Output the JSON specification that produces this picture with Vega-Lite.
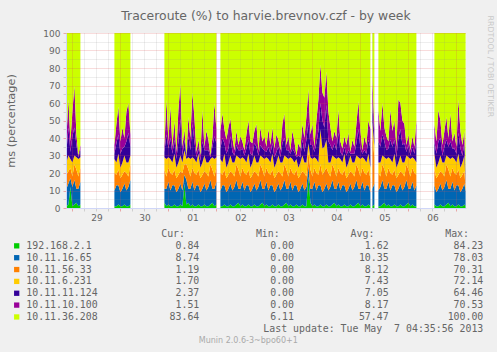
{
"$schema":"https://vega.github.io/schema/vega-lite/v6.json",
"autosize":{"type":"none"},
"padding":{"left":66,"top":33,"right":431,"bottom":319},
"background":"#F0F0F0",
"config":{"view":{"stroke":null},"font":"DejaVu Sans"},
"datasets":{
"series":[
{"t":-3,"s":1,"a":1,"b":10,"c":8,"d":7,"e":6,"f":8,"g":60},
{"t":-2,"s":1,"a":2,"b":12,"c":7,"d":9,"e":16,"f":16,"g":38},
{"t":-1,"s":1,"a":12,"b":5,"c":6,"d":5,"e":4,"f":6,"g":62},
{"t":0,"s":1,"a":1,"b":11,"c":6,"d":8,"e":15,"f":14,"g":45},
{"t":1,"s":1,"a":2,"b":14,"c":9,"d":5,"e":16,"f":24,"g":30},
{"t":2,"s":1,"a":3,"b":8,"c":11,"d":7,"e":7,"f":6,"g":58},
{"t":3,"s":1,"a":1,"b":10,"c":7,"d":10,"e":1,"f":1,"g":70},
{"t":4,"s":1,"a":2,"b":13,"c":8,"d":6,"e":4,"f":3,"g":64},
{"t":21,"s":2,"a":1,"b":9,"c":10,"d":8,"e":3,"f":5,"g":64},
{"t":22,"s":2,"a":1,"b":12,"c":6,"d":7,"e":11,"f":11,"g":52},
{"t":23,"s":2,"a":2,"b":11,"c":9,"d":9,"e":11,"f":16,"g":42},
{"t":24,"s":2,"a":1,"b":8,"c":8,"d":6,"e":8,"f":7,"g":62},
{"t":25,"s":2,"a":1,"b":10,"c":8,"d":7,"e":8,"f":12,"g":54},
{"t":26,"s":2,"a":2,"b":12,"c":7,"d":9,"e":5,"f":5,"g":60},
{"t":27,"s":2,"a":1,"b":9,"c":10,"d":6,"e":12,"f":17,"g":45},
{"t":28,"s":2,"a":1,"b":11,"c":6,"d":8,"e":17,"f":17,"g":40},
{"t":29,"s":2,"a":2,"b":14,"c":9,"d":5,"e":5,"f":7,"g":58},
{"t":46,"s":3,"a":3,"b":8,"c":11,"d":7,"e":3,"f":3,"g":65},
{"t":47,"s":3,"a":1,"b":10,"c":7,"d":10,"e":14,"f":20,"g":38},
{"t":48,"s":3,"a":2,"b":13,"c":8,"d":6,"e":5,"f":4,"g":62},
{"t":49,"s":3,"a":1,"b":9,"c":10,"d":8,"e":12,"f":18,"g":42},
{"t":50,"s":3,"a":1,"b":12,"c":6,"d":7,"e":5,"f":4,"g":65},
{"t":51,"s":3,"a":2,"b":11,"c":9,"d":9,"e":8,"f":11,"g":50},
{"t":52,"s":3,"a":1,"b":8,"c":8,"d":6,"e":5,"f":4,"g":68},
{"t":53,"s":3,"a":1,"b":10,"c":8,"d":7,"e":12,"f":18,"g":44},
{"t":54,"s":3,"a":2,"b":12,"c":7,"d":9,"e":21,"f":20,"g":29},
{"t":55,"s":3,"a":1,"b":9,"c":10,"d":6,"e":4,"f":5,"g":65},
{"t":56,"s":3,"a":14,"b":5,"c":6,"d":8,"e":6,"f":6,"g":55},
{"t":57,"s":3,"a":2,"b":14,"c":9,"d":3,"e":1,"f":1,"g":70},
{"t":58,"s":3,"a":3,"b":8,"c":11,"d":7,"e":12,"f":11,"g":48},
{"t":59,"s":3,"a":1,"b":10,"c":7,"d":10,"e":5,"f":7,"g":60},
{"t":60,"s":3,"a":2,"b":13,"c":8,"d":6,"e":19,"f":18,"g":34},
{"t":61,"s":3,"a":1,"b":9,"c":10,"d":8,"e":10,"f":14,"g":48},
{"t":62,"s":3,"a":1,"b":12,"c":6,"d":7,"e":3,"f":3,"g":68},
{"t":63,"s":3,"a":2,"b":11,"c":9,"d":9,"e":3,"f":5,"g":61},
{"t":64,"s":3,"a":1,"b":8,"c":8,"d":6,"e":4,"f":3,"g":70},
{"t":65,"s":3,"a":1,"b":10,"c":8,"d":7,"e":12,"f":18,"g":44},
{"t":66,"s":3,"a":2,"b":12,"c":7,"d":9,"e":3,"f":2,"g":65},
{"t":67,"s":3,"a":1,"b":9,"c":10,"d":6,"e":7,"f":11,"g":56},
{"t":68,"s":3,"a":1,"b":11,"c":6,"d":8,"e":7,"f":6,"g":61},
{"t":69,"s":3,"a":2,"b":14,"c":9,"d":3,"e":1,"f":1,"g":70},
{"t":70,"s":3,"a":3,"b":8,"c":11,"d":7,"e":6,"f":5,"g":60},
{"t":71,"s":3,"a":1,"b":10,"c":7,"d":10,"e":13,"f":19,"g":40},
{"t":72,"s":3,"a":2,"b":13,"c":8,"d":6,"e":8,"f":8,"g":55},
{"t":74,"s":4,"a":1,"b":9,"c":10,"d":8,"e":6,"f":10,"g":56},
{"t":75,"s":4,"a":1,"b":12,"c":6,"d":7,"e":14,"f":14,"g":46},
{"t":76,"s":4,"a":2,"b":11,"c":9,"d":9,"e":6,"f":8,"g":55},
{"t":77,"s":4,"a":1,"b":8,"c":8,"d":6,"e":8,"f":8,"g":61},
{"t":78,"s":4,"a":1,"b":10,"c":8,"d":7,"e":8,"f":12,"g":54},
{"t":79,"s":4,"a":2,"b":12,"c":7,"d":9,"e":11,"f":10,"g":49},
{"t":80,"s":4,"a":1,"b":9,"c":10,"d":6,"e":6,"f":8,"g":60},
{"t":81,"s":4,"a":1,"b":11,"c":6,"d":8,"e":4,"f":3,"g":67},
{"t":82,"s":4,"a":2,"b":14,"c":9,"d":5,"e":6,"f":8,"g":56},
{"t":83,"s":4,"a":3,"b":8,"c":11,"d":7,"e":4,"f":3,"g":64},
{"t":84,"s":4,"a":1,"b":10,"c":7,"d":10,"e":5,"f":8,"g":59},
{"t":85,"s":4,"a":2,"b":13,"c":8,"d":6,"e":5,"f":4,"g":62},
{"t":86,"s":4,"a":1,"b":9,"c":10,"d":8,"e":2,"f":3,"g":67},
{"t":87,"s":4,"a":1,"b":12,"c":6,"d":7,"e":8,"f":8,"g":58},
{"t":88,"s":4,"a":2,"b":11,"c":9,"d":9,"e":8,"f":11,"g":50},
{"t":89,"s":4,"a":1,"b":8,"c":8,"d":6,"e":8,"f":7,"g":62},
{"t":90,"s":4,"a":1,"b":10,"c":8,"d":7,"e":4,"f":7,"g":63},
{"t":91,"s":4,"a":2,"b":12,"c":7,"d":9,"e":7,"f":7,"g":56},
{"t":92,"s":4,"a":1,"b":9,"c":10,"d":6,"e":9,"f":13,"g":52},
{"t":93,"s":4,"a":1,"b":11,"c":6,"d":8,"e":4,"f":3,"g":67},
{"t":94,"s":4,"a":2,"b":14,"c":9,"d":5,"e":6,"f":10,"g":54},
{"t":95,"s":4,"a":3,"b":8,"c":11,"d":7,"e":5,"f":4,"g":62},
{"t":96,"s":4,"a":1,"b":10,"c":7,"d":10,"e":5,"f":8,"g":59},
{"t":97,"s":4,"a":2,"b":13,"c":8,"d":6,"e":3,"f":3,"g":65},
{"t":98,"s":4,"a":1,"b":9,"c":10,"d":8,"e":7,"f":10,"g":55},
{"t":99,"s":4,"a":1,"b":12,"c":6,"d":7,"e":5,"f":5,"g":64},
{"t":100,"s":4,"a":2,"b":11,"c":9,"d":9,"e":6,"f":9,"g":54},
{"t":101,"s":4,"a":1,"b":8,"c":8,"d":6,"e":6,"f":5,"g":66},
{"t":102,"s":4,"a":1,"b":10,"c":8,"d":7,"e":6,"f":10,"g":58},
{"t":103,"s":4,"a":2,"b":12,"c":7,"d":9,"e":5,"f":4,"g":61},
{"t":104,"s":4,"a":1,"b":9,"c":10,"d":6,"e":3,"f":4,"g":67},
{"t":105,"s":4,"a":1,"b":11,"c":6,"d":8,"e":11,"f":11,"g":52},
{"t":106,"s":4,"a":2,"b":14,"c":9,"d":5,"e":10,"f":14,"g":46},
{"t":107,"s":4,"a":3,"b":8,"c":11,"d":7,"e":4,"f":3,"g":64},
{"t":108,"s":4,"a":1,"b":10,"c":7,"d":10,"e":5,"f":8,"g":59},
{"t":109,"s":4,"a":2,"b":13,"c":8,"d":6,"e":2,"f":2,"g":67},
{"t":110,"s":4,"a":1,"b":9,"c":10,"d":8,"e":6,"f":10,"g":56},
{"t":111,"s":4,"a":1,"b":12,"c":6,"d":7,"e":6,"f":6,"g":62},
{"t":112,"s":4,"a":2,"b":11,"c":9,"d":6,"e":1,"f":1,"g":70},
{"t":113,"s":4,"a":1,"b":8,"c":8,"d":6,"e":7,"f":7,"g":63},
{"t":114,"s":4,"a":1,"b":10,"c":8,"d":7,"e":3,"f":5,"g":66},
{"t":115,"s":4,"a":2,"b":12,"c":7,"d":9,"e":9,"f":9,"g":52},
{"t":116,"s":4,"a":1,"b":9,"c":10,"d":6,"e":6,"f":8,"g":60},
{"t":117,"s":4,"a":1,"b":11,"c":6,"d":8,"e":13,"f":13,"g":48},
{"t":118,"s":4,"a":18,"b":6,"c":8,"d":5,"e":12,"f":19,"g":32},
{"t":119,"s":4,"a":3,"b":8,"c":11,"d":7,"e":7,"f":6,"g":58},
{"t":120,"s":4,"a":1,"b":10,"c":7,"d":10,"e":8,"f":12,"g":52},
{"t":121,"s":4,"a":2,"b":13,"c":8,"d":6,"e":3,"f":3,"g":65},
{"t":122,"s":4,"a":1,"b":9,"c":10,"d":8,"e":9,"f":13,"g":50},
{"t":123,"s":4,"a":1,"b":12,"c":6,"d":7,"e":18,"f":18,"g":38},
{"t":124,"s":4,"a":2,"b":11,"c":12,"d":20,"e":15,"f":22,"g":18},
{"t":125,"s":4,"a":1,"b":8,"c":10,"d":15,"e":16,"f":16,"g":34},
{"t":126,"s":4,"a":1,"b":10,"c":10,"d":14,"e":11,"f":17,"g":37},
{"t":127,"s":4,"a":2,"b":12,"c":9,"d":16,"e":20,"f":19,"g":22},
{"t":128,"s":4,"a":1,"b":9,"c":10,"d":6,"e":12,"f":17,"g":45},
{"t":129,"s":4,"a":1,"b":11,"c":6,"d":8,"e":10,"f":10,"g":54},
{"t":130,"s":4,"a":2,"b":14,"c":9,"d":5,"e":3,"f":5,"g":62},
{"t":131,"s":4,"a":3,"b":8,"c":11,"d":7,"e":8,"f":7,"g":56},
{"t":132,"s":4,"a":1,"b":10,"c":7,"d":10,"e":5,"f":7,"g":60},
{"t":133,"s":4,"a":2,"b":13,"c":8,"d":6,"e":14,"f":13,"g":44},
{"t":134,"s":4,"a":1,"b":9,"c":10,"d":8,"e":4,"f":6,"g":62},
{"t":135,"s":4,"a":1,"b":12,"c":6,"d":7,"e":4,"f":4,"g":66},
{"t":136,"s":4,"a":2,"b":11,"c":9,"d":9,"e":4,"f":6,"g":59},
{"t":137,"s":4,"a":1,"b":8,"c":8,"d":6,"e":7,"f":6,"g":64},
{"t":138,"s":4,"a":1,"b":10,"c":8,"d":7,"e":7,"f":10,"g":57},
{"t":139,"s":4,"a":2,"b":12,"c":7,"d":9,"e":1,"f":1,"g":68},
{"t":140,"s":4,"a":1,"b":9,"c":10,"d":6,"e":5,"f":8,"g":61},
{"t":141,"s":4,"a":1,"b":11,"c":6,"d":8,"e":5,"f":4,"g":65},
{"t":142,"s":4,"a":2,"b":14,"c":9,"d":5,"e":7,"f":11,"g":52},
{"t":143,"s":4,"a":3,"b":8,"c":11,"d":7,"e":16,"f":16,"g":39},
{"t":144,"s":4,"a":1,"b":10,"c":7,"d":10,"e":6,"f":10,"g":56},
{"t":145,"s":4,"a":2,"b":13,"c":8,"d":6,"e":2,"f":2,"g":67},
{"t":146,"s":4,"a":1,"b":9,"c":10,"d":8,"e":5,"f":8,"g":59},
{"t":147,"s":4,"a":1,"b":12,"c":6,"d":7,"e":5,"f":5,"g":64},
{"t":148,"s":4,"a":2,"b":11,"c":9,"d":9,"e":8,"f":11,"g":50},
{"t":149,"s":4,"a":1,"b":8,"c":8,"d":6,"e":11,"f":11,"g":55},
{"t":150,"s":5,"a":1,"b":10,"c":30,"d":8,"e":10,"f":15,"g":26},
{"t":151,"s":5,"a":2,"b":12,"c":15,"d":6,"e":5,"f":5,"g":55},
{"t":153,"s":6,"a":1,"b":9,"c":10,"d":6,"e":12,"f":18,"g":44},
{"t":154,"s":6,"a":1,"b":11,"c":6,"d":8,"e":9,"f":9,"g":56},
{"t":155,"s":6,"a":2,"b":14,"c":9,"d":5,"e":12,"f":18,"g":40},
{"t":156,"s":6,"a":3,"b":8,"c":11,"d":7,"e":9,"f":8,"g":54},
{"t":157,"s":6,"a":1,"b":10,"c":7,"d":10,"e":5,"f":8,"g":59},
{"t":158,"s":6,"a":2,"b":13,"c":8,"d":6,"e":5,"f":4,"g":62},
{"t":159,"s":6,"a":1,"b":9,"c":10,"d":8,"e":11,"f":17,"g":44},
{"t":160,"s":6,"a":1,"b":12,"c":6,"d":7,"e":9,"f":9,"g":56},
{"t":161,"s":6,"a":2,"b":11,"c":9,"d":9,"e":8,"f":11,"g":50},
{"t":162,"s":6,"a":1,"b":8,"c":8,"d":6,"e":6,"f":6,"g":65},
{"t":163,"s":6,"a":1,"b":10,"c":8,"d":7,"e":14,"f":22,"g":38},
{"t":164,"s":6,"a":2,"b":12,"c":7,"d":9,"e":15,"f":15,"g":40},
{"t":165,"s":6,"a":1,"b":9,"c":10,"d":6,"e":10,"f":14,"g":50},
{"t":166,"s":6,"a":1,"b":11,"c":6,"d":8,"e":11,"f":11,"g":52},
{"t":167,"s":6,"a":2,"b":14,"c":9,"d":5,"e":2,"f":4,"g":64},
{"t":168,"s":6,"a":3,"b":8,"c":11,"d":7,"e":7,"f":6,"g":58},
{"t":169,"s":6,"a":1,"b":10,"c":7,"d":10,"e":2,"f":3,"g":67},
{"t":170,"s":6,"a":2,"b":13,"c":8,"d":6,"e":6,"f":6,"g":59},
{"t":171,"s":6,"a":1,"b":9,"c":10,"d":8,"e":3,"f":4,"g":65},
{"t":172,"s":6,"a":1,"b":12,"c":6,"d":7,"e":12,"f":12,"g":50},
{"t":181,"s":7,"a":2,"b":11,"c":9,"d":9,"e":7,"f":10,"g":52},
{"t":182,"s":7,"a":1,"b":8,"c":8,"d":6,"e":8,"f":7,"g":62},
{"t":183,"s":7,"a":1,"b":10,"c":8,"d":7,"e":12,"f":18,"g":44},
{"t":184,"s":7,"a":2,"b":12,"c":7,"d":9,"e":10,"f":10,"g":50},
{"t":185,"s":7,"a":1,"b":9,"c":10,"d":6,"e":4,"f":6,"g":64},
{"t":186,"s":7,"a":1,"b":11,"c":6,"d":8,"e":9,"f":9,"g":56},
{"t":187,"s":7,"a":2,"b":14,"c":9,"d":5,"e":9,"f":13,"g":48},
{"t":188,"s":7,"a":3,"b":8,"c":11,"d":7,"e":6,"f":5,"g":60},
{"t":189,"s":7,"a":1,"b":10,"c":7,"d":10,"e":10,"f":16,"g":46},
{"t":190,"s":7,"a":2,"b":13,"c":8,"d":6,"e":5,"f":4,"g":62},
{"t":191,"s":7,"a":1,"b":9,"c":10,"d":8,"e":6,"f":9,"g":57},
{"t":192,"s":7,"a":1,"b":12,"c":6,"d":7,"e":5,"f":4,"g":65},
{"t":193,"s":7,"a":2,"b":11,"c":9,"d":9,"e":12,"f":19,"g":38},
{"t":194,"s":7,"a":1,"b":8,"c":8,"d":6,"e":11,"f":10,"g":56},
{"t":195,"s":7,"a":1,"b":10,"c":8,"d":7,"e":4,"f":6,"g":64},
{"t":196,"s":7,"a":2,"b":12,"c":7,"d":9,"e":7,"f":7,"g":56},
{"t":196.6,"s":7,"a":0.84,"b":8.74,"c":1.19,"d":1.7,"e":2.37,"f":1.51,"g":83.64}
],
"legend":[
{"r":1,"k":"a","n":"192.168.2.1","cur":"0.84","min":"0.00","avg":"1.62","max":"84.23"},
{"r":2,"k":"b","n":"10.11.16.65","cur":"8.74","min":"0.00","avg":"10.35","max":"78.03"},
{"r":3,"k":"c","n":"10.11.56.33","cur":"1.19","min":"0.00","avg":"8.12","max":"70.31"},
{"r":4,"k":"d","n":"10.11.6.231","cur":"1.70","min":"0.00","avg":"7.43","max":"72.14"},
{"r":5,"k":"e","n":"10.11.11.124","cur":"2.37","min":"0.00","avg":"7.05","max":"64.46"},
{"r":6,"k":"f","n":"10.11.10.100","cur":"1.51","min":"0.00","avg":"8.17","max":"70.53"},
{"r":7,"k":"g","n":"10.11.36.208","cur":"83.64","min":"6.11","avg":"57.47","max":"100.00"}
],
"headers":[{"col":"cur","h":"Cur:"},{"col":"min","h":"Min:"},{"col":"avg","h":"Avg:"},{"col":"max","h":"Max:"}],
"footer":[{"col":"max","r":8,"txt":"Last update: Tue May\u00a0 7 04:35:56 2013"}],
"credit":[{"col":"cur","r":9,"txt":"Munin 2.0.6-3~bpo60+1"}]
},
"spacing":26,
"bounds":"flush",
"vconcat":[
{
"width":400,"height":175,
"view":{"fill":"#FFFFFF","stroke":null},
"title":{"text":"Traceroute (%) to harvie.brevnov.czf - by week","anchor":"middle","frame":"group","offset":-3.3,"dy":14.5,"baseline":"alphabetic","fontSize":12.4,"font":"DejaVu Sans","fontWeight":"normal","color":"#666666"},
"resolve":{"axis":{"y":"independent"}},
"layer":[
{
"data":{"name":"series"},
"transform":[
{"fold":["a","b","c","d","e","f","g"],"as":["k","v"]},
{"stack":"v","groupby":["t"],"sort":[{"field":"k","order":"ascending"}],"as":["y0","y1"]}
],
"mark":{"type":"area","interpolate":"linear"},
"encoding":{
"x":{"field":"t","type":"quantitative","scale":{"domain":[-3.2,196.8],"nice":false,"zero":false},
"axis":{"values":[0,6,12,18,24,30,36,42,48,54,60,66,72,78,84,90,96,102,108,114,120,126,132,138,144,150,156,162,168,174,180,186,192],
"title":null,"labelExpr":"datum.value % 24 == 12 ? ['29','30','01','02','03','04','05','06'][floor(datum.value/24)] : ''",
"labelOverlap":false,"labelFlush":false,"labelFont":"DejaVu Sans","labelFontSize":9,"labelColor":"#666666","labelPadding":2,
"tickSize":3,"tickColor":{"condition":{"test":"datum.value % 24 == 0","value":"rgba(222,79,79,0.45)"},"value":"rgba(143,143,143,0.35)"},
"grid":true,"gridDash":[1,1],"gridColor":{"condition":{"test":"datum.value % 24 == 0","value":"rgba(222,79,79,0.4)"},"value":"rgba(143,143,143,0.3)"},
"domainColor":"#CFD6F8","zindex":1}},
"y":{"field":"y1","type":"quantitative","scale":{"domain":[0,100],"nice":false},
"axis":{"values":[0,5,10,15,20,25,30,35,40,45,50,55,60,65,70,75,80,85,90,95,100],
"title":"ms (percentage)","labelExpr":"datum.value % 10 == 0 ? datum.label : ''",
"labelOverlap":false,"labelFlush":false,"labelFont":"DejaVu Sans","labelFontSize":9,"labelColor":"#666666","labelPadding":3,
"tickSize":3,"tickColor":{"condition":{"test":"datum.value % 10 == 0","value":"rgba(222,79,79,0.45)"},"value":"rgba(143,143,143,0.35)"},
"grid":true,"gridDash":[1,1],"gridColor":{"condition":{"test":"datum.value % 10 == 0","value":"rgba(222,79,79,0.4)"},"value":"rgba(143,143,143,0.3)"},
"domainColor":"#CFD6F8","zindex":1,
"titleFont":"DejaVu Sans","titleFontSize":11.3,"titleFontWeight":"normal","titleColor":"#666666",
"titleX":-55,"titleY":87.5,"titleAlign":"center","titleBaseline":"middle","titleAngle":-90}},
"y2":{"field":"y0"},
"color":{"field":"k","type":"nominal","scale":{"domain":["a","b","c","d","e","f","g"],"range":["#00CC00","#0066B3","#FF8000","#FFCC00","#330099","#990099","#CCFF00"]},"legend":null},
"detail":{"field":"s","type":"nominal"}
}
},
{
"data":{"values":[{}]},
"mark":{"type":"rule","opacity":0},
"encoding":{"y":{"datum":0,"type":"quantitative",
"axis":{"orient":"right","title":"RRDTOOL / TOBI OETIKER","labels":false,"ticks":false,"domain":false,"grid":false,
"titleAngle":90,"titleAlign":"left","titleBaseline":"top","titleX":27,"titleY":-18,
"titleFont":"DejaVu Sans","titleFontSize":7.9,"titleFontWeight":"normal","titleColor":"#C8C8C8"}}}
}
]
},
{
"width":400,"height":106.65,
"view":{"fill":null,"stroke":null},
"layer":[
{
"data":{"name":"legend"},
"mark":{"type":"square","size":28,"filled":true,"opacity":1,"xOffset":-182.6},
"encoding":{
"x":{"datum":"cur","type":"nominal","scale":{"type":"point","domain":["cur","min","avg","max"],"range":[133.3,417.3],"padding":0},"axis":null},
"y":{"field":"r","type":"quantitative","scale":{"domain":[0,9],"reverse":true,"nice":false,"zero":false},"axis":null},
"color":{"field":"k","type":"nominal","scale":{"domain":["a","b","c","d","e","f","g"],"range":["#00CC00","#0066B3","#FF8000","#FFCC00","#330099","#990099","#CCFF00"]},"legend":null}
}
},
{
"data":{"name":"legend"},
"mark":{"type":"text","align":"left","baseline":"middle","dx":-173,"font":"DejaVu Sans Mono","fontSize":9.9,"color":"#666666"},
"encoding":{"x":{"datum":"cur","type":"nominal"},"y":{"field":"r","type":"quantitative"},"text":{"field":"n"}}
},
{
"data":{"name":"legend"},
"transform":[{"fold":["cur","min","avg","max"],"as":["col","val"]}],
"mark":{"type":"text","align":"right","baseline":"middle","font":"DejaVu Sans Mono","fontSize":9.9,"color":"#666666"},
"encoding":{"x":{"field":"col","type":"nominal"},"y":{"field":"r","type":"quantitative"},"text":{"field":"val"}}
},
{
"data":{"name":"headers"},
"mark":{"type":"text","align":"right","baseline":"middle","dx":-14.3,"font":"DejaVu Sans Mono","fontSize":9.9,"color":"#666666"},
"encoding":{"x":{"field":"col","type":"nominal"},"y":{"datum":0,"type":"quantitative"},"text":{"field":"h"}}
},
{
"data":{"name":"footer"},
"mark":{"type":"text","align":"right","baseline":"middle","font":"DejaVu Sans Mono","fontSize":9.9,"color":"#666666"},
"encoding":{"x":{"field":"col","type":"nominal"},"y":{"field":"r","type":"quantitative"},"text":{"field":"txt"}}
},
{
"data":{"name":"credit"},
"mark":{"type":"text","align":"center","baseline":"middle","dx":49,"font":"DejaVu Sans","fontSize":8,"color":"#AAAAAA"},
"encoding":{"x":{"field":"col","type":"nominal"},"y":{"field":"r","type":"quantitative"},"text":{"field":"txt"}}
}
]
}
]
}
